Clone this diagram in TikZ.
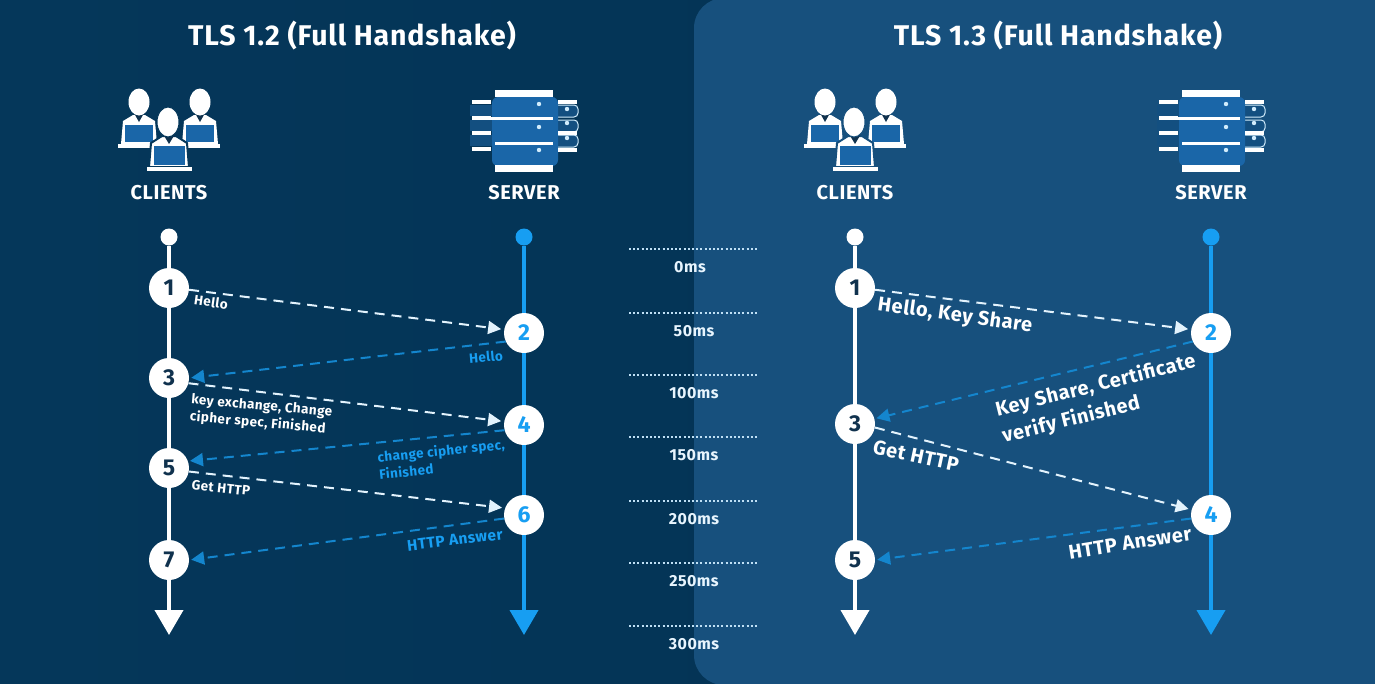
\documentclass[tikz,border=0pt]{standalone}
\usepackage{fontspec}
\setmainfont{Fira Sans}
\newfontfamily\tlsfont[LetterSpace=3]{Fira Sans}
\usetikzlibrary{arrows.meta}
\definecolor{bgdark}{HTML}{05375A}
\definecolor{bgdarker}{HTML}{033253}
\definecolor{bgpanel}{HTML}{17507D}
\definecolor{tlsblue}{HTML}{179EF2}
\definecolor{iconblue}{HTML}{1A66A8}
\definecolor{iconside}{HTML}{134F80}
\definecolor{textdark}{HTML}{10324E}
\definecolor{timeblue}{HTML}{BFE0F5}
\tikzset{
  numnode/.style={circle,fill=white,minimum size=40pt,inner sep=0pt,font=\bfseries\fontsize{23}{23}\selectfont},
  numclient/.style={numnode,text=textdark},
  numserver/.style={numnode,text=tlsblue},
  startnode/.style={circle,minimum size=17pt,inner sep=0pt},
  lifeline/.style={line width=4pt},
  lifeclient/.style={draw=white,lifeline,-{Triangle[width=28pt,length=25pt]}},
  lifeserver/.style={draw=tlsblue,lifeline,-{Triangle[width=28pt,length=25pt]}},
  msgclient/.style={draw=white!88!tlsblue,line width=2pt,dash pattern=on 10pt off 7pt,-{Triangle[width=13pt,length=13pt]},shorten >=3pt},
  msgserver/.style={draw=tlsblue!85!black,line width=2pt,dash pattern=on 10pt off 7pt,-{Triangle[width=13pt,length=13pt]},shorten >=2pt},
  titletext/.style={text=white,font=\tlsfont\bfseries\fontsize{28.5}{28.5}\selectfont},
  roletext/.style={text=white,font=\tlsfont\bfseries\fontsize{20}{20}\selectfont},
  timetext/.style={text=white!90!tlsblue,font=\tlsfont\bfseries\fontsize{16}{16}\selectfont},
  timeline/.style={draw=timeblue,line width=2pt,dash pattern=on 2pt off 2.2pt},
  lblsmall/.style={font=\tlsfont\bfseries\fontsize{13.5}{17}\selectfont,align=left,inner sep=0pt},
  lblmid/.style={font=\tlsfont\bfseries\fontsize{15.5}{16}\selectfont,align=left,inner sep=0pt},
  lblbig/.style={font=\tlsfont\bfseries\fontsize{20}{27}\selectfont,align=left,inner sep=0pt},
  pics/manicon/.style={code={
    \fill[white] (-6,13) -- (6,13) -- (16,19) -- (18,42) -- (-18,42) -- (-16,19) -- cycle;
    \fill[white] (-21,42) rectangle (20,46);
    \fill[iconblue] (-14,23) rectangle (14,40);
    \fill[textdark] (-5,11) -- (0,20) -- (5,11) -- cycle;
    \fill[white] (0,0) ellipse (10.5 and 13.5);
  }},
  pics/clienticon/.style={code={
    \pic at (-30,-28) {manicon};
    \pic at (31,-28) {manicon};
    \filldraw[fill=white,draw=#1,line width=2pt] (-7,6) -- (7,6) -- (18,13) -- (20,37) -- (-20,37) -- (-18,13) -- cycle;
    \fill[white] (-22,37) rectangle (23,41);
    \fill[iconblue] (-15,16) rectangle (16,35);
    \fill[textdark] (-6,4) -- (0,14) -- (6,4) -- cycle;
    \filldraw[fill=white,draw=#1,line width=1pt] (-1,-8) ellipse (11 and 15);
  }},
  pics/servericon/.style={code={
    % side drawers
    \foreach \yy in {-25,-10,5} {
      \fill[iconside] (-54,\yy) rectangle (-30,\yy+11);
      \filldraw[fill=iconside,draw=white!80!tlsblue,line width=1pt,rounded corners=4pt] (34,\yy) -- (54,\yy) -- (54,\yy+12) -- (34,\yy+12);
    }
    \fill[iconblue,rounded corners=6pt] (-32,-33) rectangle (34,36);
    % bars
    \foreach \yy in {-28,-12,3,19} {
      \fill[white] (-52,\yy-2) rectangle (-33,\yy+2);
    }
    \foreach \yy in {-28,3,20} {
      \fill[white] (34,\yy-2) rectangle (53,\yy+2);
    }
    \fill[white] (-29,-40) rectangle (29,-33);
    \fill[white] (-52,-13) rectangle (29,-10);
    \fill[white] (-29,12) rectangle (29,15);
    \fill[white] (-29,35) rectangle (29,42);
    % lamps
    \foreach \xx/\yy in {15/-26,15/-3,15/20,43/-21,43/-7,43/8} {
      \fill[white!80!tlsblue] (\xx,\yy) circle (2.2);
    }
  }},
}
\begin{document}
\begin{tikzpicture}[x=1pt,y=-1pt]
  \useasboundingbox (0,0) rectangle (1375,683);
  % Background
  \shade[left color=bgdark,right color=bgdarker] (0,0) rectangle (1375,683);
  \fill[bgpanel,rounded corners=30pt] (694,-2) -- (694,685) -- (1420,685) -- (1420,-2) -- cycle;
  % Titles
  \node[titletext] (titleA) at (352,36) {TLS 1.2 (Full Handshake)};
  \node[titletext] (titleB) at (1058,36) {TLS 1.3 (Full Handshake)};
  % Icons
  \pic at (169,130) {clienticon=bgdark};
  \pic at (855,130) {clienticon=bgpanel};
  \pic at (524,130) {servericon};
  \pic at (1211,130) {servericon};
  \node[roletext] (roleA) at (169,193) {CLIENTS};
  \node[roletext] (roleB) at (524,193) {SERVER};
  \node[roletext] (roleC) at (855,193) {CLIENTS};
  \node[roletext] (roleD) at (1211,193) {SERVER};
  % Time scale
  \foreach \yy/\xx/\lab in {249/690/0ms,313/694/50ms,375/694/100ms,437/694/150ms,501/694/200ms,563/694/250ms,626/694/300ms} {
    \draw[timeline] (629,\yy) -- (759,\yy);
    \node[timetext] (t\lab) at (\xx,\yy+18) {\lab};
  }
  % TLS 1.2, left
  \node[startnode,fill=white] (a0) at (169,237) {};
  \node[numclient] (a1) at (169,288) {1};
  \node[numclient] (a3) at (169,378) {3};
  \node[numclient] (a5) at (169,468) {5};
  \node[numclient] (a7) at (169,560) {7};
  \coordinate (a8) at (169,635);
  \node[startnode,fill=tlsblue] (b0) at (524,237) {};
  \node[numserver] (b2) at (524,333) {2};
  \node[numserver] (b4) at (524,425) {4};
  \node[numserver] (b6) at (524,515) {6};
  \coordinate (b8) at (524,635);
  \draw[draw=white,lifeline] (a0) -- (a1);
  \draw[draw=white,lifeline] (a1) -- (a3);
  \draw[draw=white,lifeline] (a3) -- (a5);
  \draw[draw=white,lifeline] (a5) -- (a7);
  \draw[lifeclient] (a7) -- (a8);
  \draw[draw=tlsblue,lifeline] (b0) -- (b2);
  \draw[draw=tlsblue,lifeline] (b2) -- (b4);
  \draw[draw=tlsblue,lifeline] (b4) -- (b6);
  \draw[lifeserver] (b6) -- (b8);
  \draw[msgclient] (a1.-5) -- (b2.170);
  \draw[msgserver] (b2.205) -- (a3.0);
  \draw[msgclient] (a3.-15) -- (b4.170);
  \draw[msgserver] (b4.195) -- (a5.20);
  \draw[msgclient] (a5.-10) -- (b6.160);
  \draw[msgserver] (b6.190) -- (a7.0);
  \node[lblsmall,text=white,rotate=-8] (la1) at (211,302) {Hello};
  \node[lblsmall,text=tlsblue,rotate=5] (la2) at (486,357) {Hello};
  \node[lblsmall,text=white,rotate=-5] (la3) at (261,415) {key exchange, Change\\cipher spec, Finished};
  \node[lblsmall,text=tlsblue,rotate=6] (la4) at (442,459) {change cipher spec,\\Finished};
  \node[lblsmall,text=white,rotate=-6] (la5) at (221,488) {Get HTTP};
  \node[lblmid,text=tlsblue,rotate=7] (la6) at (455,540) {HTTP Answer};
  % TLS 1.3, right
  \node[startnode,fill=white] (c0) at (855,237) {};
  \node[numclient] (c1) at (855,288) {1};
  \node[numclient] (c3) at (855,424) {3};
  \node[numclient] (c5) at (855,560) {5};
  \coordinate (c8) at (855,635);
  \node[startnode,fill=tlsblue] (d0) at (1211,237) {};
  \node[numserver] (d2) at (1211,333) {2};
  \node[numserver] (d4) at (1211,515) {4};
  \coordinate (d8) at (1211,635);
  \draw[draw=white,lifeline] (c0) -- (c1);
  \draw[draw=white,lifeline] (c1) -- (c3);
  \draw[draw=white,lifeline] (c3) -- (c5);
  \draw[lifeclient] (c5) -- (c8);
  \draw[draw=tlsblue,lifeline] (d0) -- (d2);
  \draw[draw=tlsblue,lifeline] (d2) -- (d4);
  \draw[lifeserver] (d4) -- (d8);
  \draw[msgclient] (c1.-5) -- (d2.170);
  \draw[msgserver] (d2.205) -- (c3.15);
  \draw[msgclient] (c3.-10) -- (d4.165);
  \draw[msgserver] (d4.190) -- (c5.0);
  \node[lblbig,text=white,rotate=-8] (lc1) at (955,316) {Hello, Key Share};
  \node[lblbig,text=white,rotate=14] (lc2) at (1099,399) {Key Share, Certificate\\verify Finished};
  \node[lblbig,text=white,rotate=-12] (lc3) at (916,456) {Get HTTP};
  \node[lblbig,text=white,rotate=9] (lc4) at (1130,543) {HTTP Answer};
\end{tikzpicture}
\end{document}
